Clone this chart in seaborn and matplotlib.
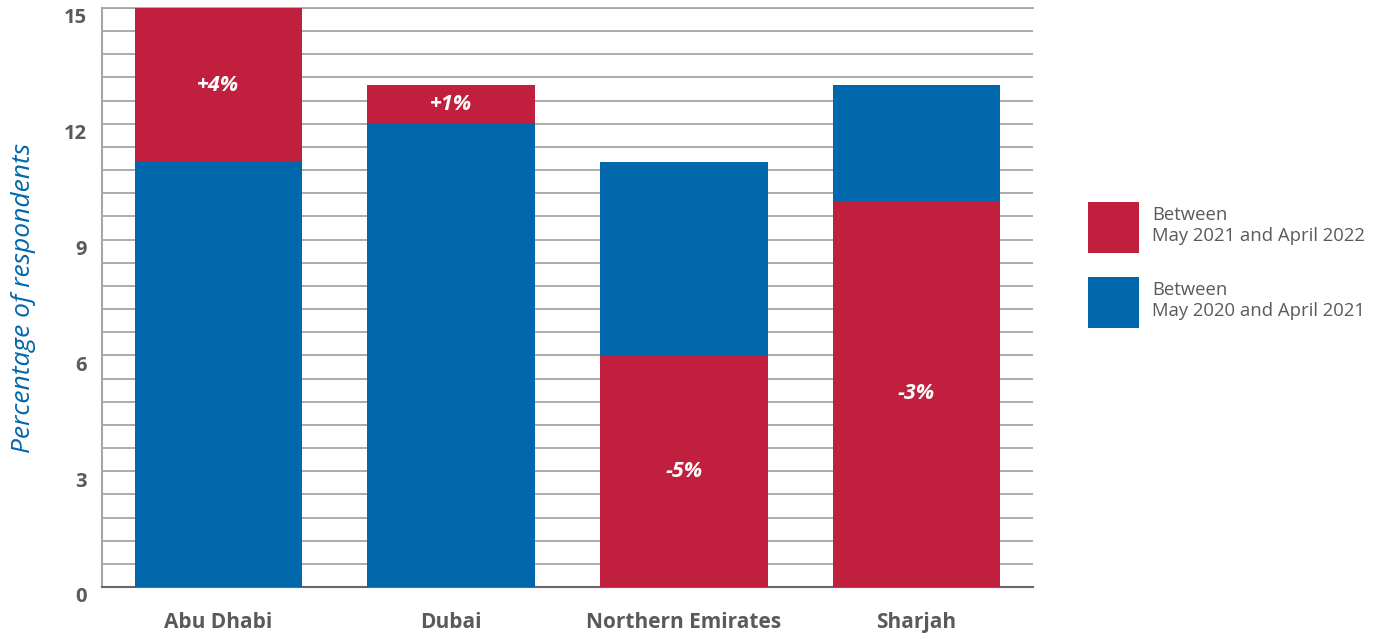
import numpy as np
import pandas as pd
import matplotlib
matplotlib.use("Agg")
import matplotlib.pyplot as plt
import matplotlib.transforms as mtransforms
from matplotlib.patches import Patch
import seaborn as sns

# Share of respondents per emirate, by survey period
regions = ["Abu Dhabi", "Dubai", "Northern Emirates", "Sharjah"]
earlier = [11, 12, 11, 13]   # Between May 2020 and April 2021
later = [15, 13, 6, 10]      # Between May 2021 and April 2022
period_labels = ["Between\nMay 2021 and April 2022", "Between\nMay 2020 and April 2021"]
y_ticks = [0, 3, 6, 9, 12, 15]

RED = "#C01F3D"
BLUE = "#0067AB"
GRID = "#a6a6a6"
TEXT = "#5a5a5a"

sns.set_theme(style="white")
plt.rcParams["font.family"] = ["Open Sans", "DejaVu Sans"]

df = pd.DataFrame({
    "region": regions * 2,
    "value": earlier + later,
    "period": [period_labels[1]] * len(regions) + [period_labels[0]] * len(regions),
})

fig = plt.figure(figsize=(13.86, 6.39), dpi=100)
ax = fig.add_axes([0.0736, 0.0814, 0.6717, 0.9061])

sns.barplot(
    data=df, x="region", y="value", hue="period", dodge=False,
    order=regions, hue_order=[period_labels[1], period_labels[0]],
    palette=[BLUE, RED], saturation=1, width=0.72, legend=False, ax=ax,
)

# Taller bar sits behind the shorter one in each group
for p in ax.patches:
    p.set_zorder(3 + (20 - p.get_height()) / 100)
    p.set_linewidth(0)

# Change labels in the visible red segment
for i, (e, l) in enumerate(zip(earlier, later)):
    change = l - e
    y = (e + l) / 2 if l > e else l / 2
    ax.text(i, y, f"{change:+d}%", ha="center", va="center", color="white",
            fontsize=15.5, fontweight="bold", fontstyle="italic", zorder=10)

ax.set_xlim(-0.5, 3.5)
ax.set_ylim(0, 15)
ax.set_yticks(y_ticks)
ax.set_yticks(np.arange(0, 15.01, 0.6), minor=True)
ax.set_axisbelow(True)
ax.grid(axis="y", which="both", color=GRID, linewidth=1.3)
ax.grid(axis="x", visible=False)
ax.tick_params(axis="both", which="both", length=0)
ax.tick_params(axis="y", pad=11, labelsize=14.5, labelcolor=TEXT)
ax.tick_params(axis="x", pad=18, labelsize=15, labelcolor=TEXT)
for lab in ax.get_yticklabels() + ax.get_xticklabels():
    lab.set_fontweight("bold")
offset = mtransforms.ScaledTranslation(0, -8 / 100, fig.dpi_scale_trans)
for lab in ax.get_yticklabels():
    lab.set_transform(lab.get_transform() + offset)

ax.set_xlabel("")
ax.set_ylabel("Percentage of respondents", fontsize=19, fontstyle="italic",
              color=BLUE, labelpad=20)

ax.spines["right"].set_visible(False)
ax.spines["top"].set_color(GRID)
ax.spines["top"].set_linewidth(1.3)
ax.spines["left"].set_color(GRID)
ax.spines["left"].set_linewidth(1.5)
ax.spines["bottom"].set_color("#666666")
ax.spines["bottom"].set_linewidth(1.5)

handles = [Patch(facecolor=RED, edgecolor="none"), Patch(facecolor=BLUE, edgecolor="none")]
fig.legend(
    handles, period_labels, loc="upper left",
    bbox_to_anchor=(1088 / 1386, 1 - 202 / 639), frameon=False,
    fontsize=13.3, labelcolor=TEXT, handlelength=2.76, handleheight=3.87,
    handletextpad=0.72, labelspacing=1.3, borderpad=0, borderaxespad=0,
)

fig.savefig("out.png", dpi=100)
